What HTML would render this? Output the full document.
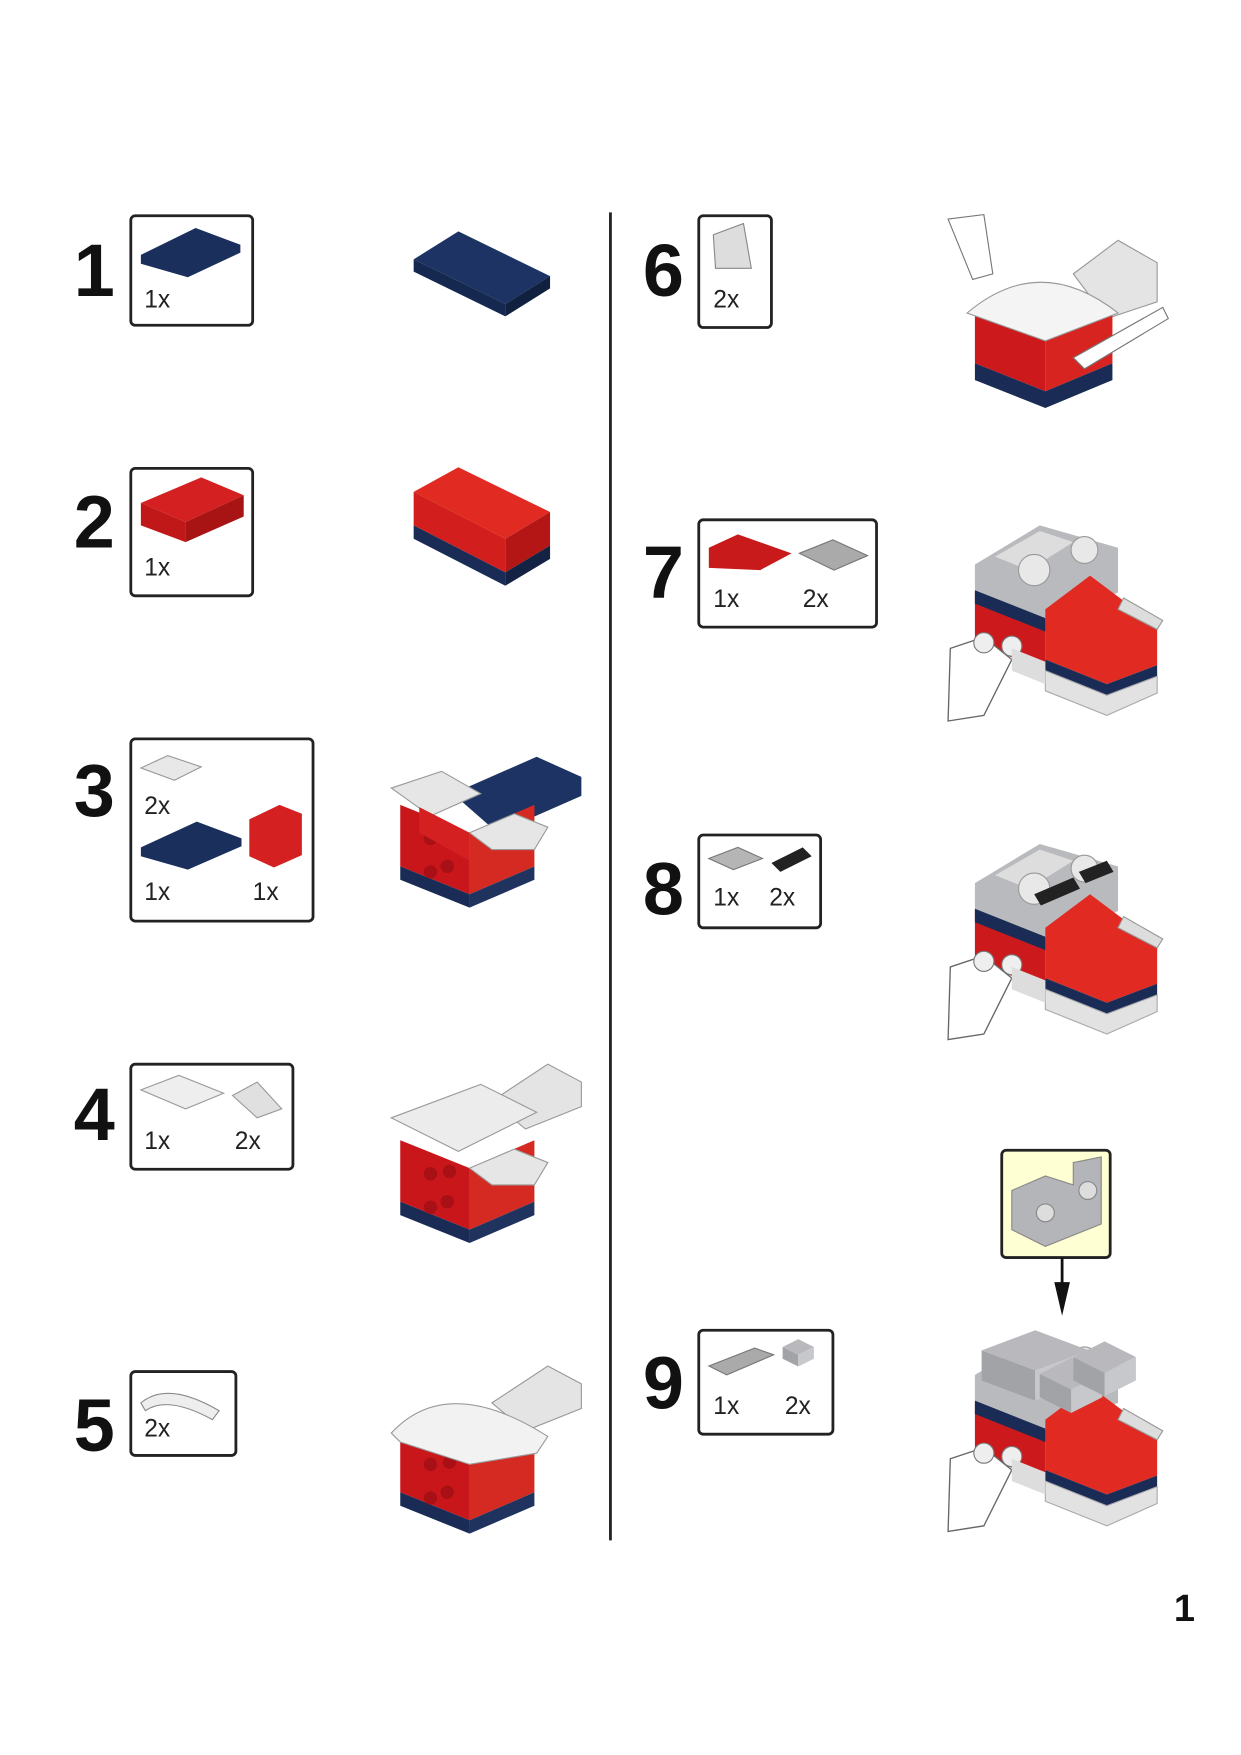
<!DOCTYPE html>
<html><head><meta charset="utf-8"><style>
html,body{margin:0;padding:0;background:#fff;}
svg{display:block;}
.n{font-family:"Liberation Sans",sans-serif;font-weight:bold;font-size:66px;fill:#111;}
.q{font-family:"Liberation Sans",sans-serif;font-size:22px;fill:#222;}
.bx{fill:#fff;stroke:#222;stroke-width:2.5;}
</style></head><body>
<svg width="1241" height="1755" viewBox="0 0 1110 1570" preserveAspectRatio="none" xmlns="http://www.w3.org/2000/svg">
<defs>
 <g id="body">
  <!-- red body with blue base -->
  <polygon points="358,720 420,745 420,800 358,775" fill="#c8161a"/>
  <polygon points="420,745 478,720 478,775 420,800" fill="#d42a22"/>
  <polygon points="358,775 420,800 420,812 358,787" fill="#1a2c55"/>
  <polygon points="420,800 478,775 478,787 420,812" fill="#20335f"/>
  <circle cx="385" cy="750" r="6" fill="#a81015"/><circle cx="400" cy="775" r="6" fill="#a81015"/>
  <circle cx="385" cy="780" r="6" fill="#a81015"/><circle cx="402" cy="748" r="6" fill="#a81015"/>
 </g>
 <g id="ship">
  <polygon points="872,505 930,470 1000,490 1000,530 940,555 872,530" fill="#b9babd"/>
  <polygon points="890,498 930,475 960,485 920,510" fill="#ddd"/>
  <circle cx="925" cy="510" r="14" fill="#e8e8e8" stroke="#999"/>
  <circle cx="970" cy="492" r="12" fill="#e8e8e8" stroke="#999"/>
  <polygon points="872,530 935,555 935,600 872,575" fill="#cc1a1c"/>
  <polygon points="872,528 935,553 935,565 872,540" fill="#1a2c55"/>
  <polygon points="935,545 975,515 1035,560 1035,595 990,612 935,590" fill="#e02a22"/>
  <polygon points="935,590 990,612 1035,595 1035,605 990,622 935,600" fill="#1a2c55"/>
  <polygon points="935,600 990,622 1035,605 1035,620 990,640 935,618" fill="#e2e2e2" stroke="#aaa"/>
  <polygon points="1005,535 1040,555 1035,563 1000,545" fill="#ddd" stroke="#999"/>
  <polygon points="850,580 880,570 905,590 880,640 848,645" fill="#fff" stroke="#666" stroke-width="1.2"/>
  <circle cx="880" cy="575" r="9" fill="#eee" stroke="#777"/><circle cx="905" cy="578" r="9" fill="#eee" stroke="#777"/>
  <polygon points="905,580 935,592 935,612 905,600" fill="#ddd"/>
 </g>
 <g id="brk">
  <polygon points="0,20 40,0 80,20 40,40" fill="#b9b9bd"/>
  <polygon points="0,20 40,40 40,70 0,50" fill="#a2a3a7"/>
  <polygon points="40,40 80,20 80,50 40,70" fill="#c7c8cb"/>
 </g>
</defs>

<line x1="546" y1="190" x2="546" y2="1378" stroke="#222" stroke-width="2.5"/>

<!-- Step 1 -->
<text class="n" x="66" y="265">1</text>
<rect class="bx" x="117" y="193" width="109" height="98" rx="4"/>
<polygon points="126,228 175,204 215,219 215,226 168,248 126,236" fill="#1a2f5c"/>
<text class="q" x="129" y="275">1x</text>
<polygon points="370,232 410,207 492,247 452,272" fill="#1c3363"/>
<polygon points="370,232 452,272 452,283 370,243" fill="#142850"/>
<polygon points="452,272 492,247 492,258 452,283" fill="#10203f"/>

<!-- Step 2 -->
<text class="n" x="66" y="490">2</text>
<rect class="bx" x="117" y="419" width="109" height="114" rx="4"/>
<polygon points="126,450 180,427 218,443 166,467" fill="#d42020"/>
<polygon points="126,450 166,467 166,485 126,470" fill="#c01818"/>
<polygon points="166,467 218,443 218,462 166,485" fill="#a81414"/>
<text class="q" x="129" y="515">1x</text>
<polygon points="370,440 410,418 492,458 452,482" fill="#e02a22"/>
<polygon points="370,440 452,482 452,512 370,470" fill="#d21e1c"/>
<polygon points="452,482 492,458 492,488 452,512" fill="#b41515"/>
<polygon points="370,470 452,512 452,524 370,482" fill="#1a2c55"/>
<polygon points="452,512 492,488 492,500 452,524" fill="#142244"/>

<!-- Step 3 -->
<text class="n" x="66" y="730">3</text>
<rect class="bx" x="117" y="661" width="163" height="163" rx="4"/>
<polygon points="126,687 150,676 180,686 156,698" fill="#e8e8e8" stroke="#999"/>
<text class="q" x="129" y="728">2x</text>
<polygon points="126,758 176,735 216,750 216,757 168,778 126,766" fill="#1a2f5c"/>
<polygon points="223,733 250,720 270,728 270,765 245,776 223,766" fill="#d42020"/>
<text class="q" x="129" y="805">1x</text><text class="q" x="226" y="805">1x</text>
<polygon points="405,710 480,677 520,695 520,712 445,745" fill="#1c3363"/>
<polygon points="350,705 395,690 430,710 385,730" fill="#e6e6e6" stroke="#999"/>
<use href="#body"/>
<polygon points="420,745 460,728 490,740 478,760 440,760" fill="#e6e6e6" stroke="#999"/>
<polygon points="375,722 420,745 420,770 375,745" fill="#d42020"/>

<!-- Step 4 -->
<text class="n" x="66" y="1020">4</text>
<rect class="bx" x="117" y="952" width="145" height="94" rx="4"/>
<polygon points="126,975 160,962 200,978 166,992" fill="#eee" stroke="#999"/>
<polygon points="208,980 230,968 252,992 230,1000" fill="#e0e0e0" stroke="#999"/>
<text class="q" x="129" y="1028">1x</text><text class="q" x="210" y="1028">2x</text>
<polygon points="440,985 490,952 520,968 520,990 470,1010" fill="#e4e4e4" stroke="#999"/>
<g transform="translate(0,300)"><use href="#body"/></g>
<polygon points="350,1000 430,970 480,995 410,1030" fill="#ececec" stroke="#999"/>
<polygon points="420,1045 460,1028 490,1040 478,1060 440,1060" fill="#e6e6e6" stroke="#999"/>

<!-- Step 5 -->
<text class="n" x="66" y="1298">5</text>
<rect class="bx" x="117" y="1227" width="94" height="75" rx="4"/>
<path d="M126,1255 Q150,1235 196,1262 L190,1270 Q150,1248 130,1262Z" fill="#eee" stroke="#888"/>
<text class="q" x="129" y="1285">2x</text>
<polygon points="440,1255 490,1222 520,1238 520,1260 470,1280" fill="#e4e4e4" stroke="#999"/>
<g transform="translate(0,560)"><use href="#body"/></g>
<path d="M350,1282 Q400,1228 490,1285 L480,1300 L420,1310 L358,1290Z" fill="#f2f2f2" stroke="#999"/>

<!-- Step 6 -->
<text class="n" x="575" y="265">6</text>
<rect class="bx" x="625" y="193" width="65" height="100" rx="4"/>
<polygon points="638,210 665,200 672,240 640,240" fill="#ddd" stroke="#888"/>
<text class="q" x="638" y="275">2x</text>
<polygon points="960,245 1000,215 1035,235 1035,270 990,285" fill="#e4e4e4" stroke="#999"/>
<polygon points="872,280 935,305 935,350 872,325" fill="#cc1a1c"/>
<polygon points="935,305 995,280 995,325 935,350" fill="#d82420"/>
<polygon points="872,325 935,350 995,325 995,340 935,365 872,340" fill="#1a2c55"/>
<path d="M865,280 Q930,225 1000,280 L935,305Z" fill="#f4f4f4" stroke="#999"/>
<polygon points="848,196 880,192 888,245 870,250" fill="#fff" stroke="#777"/>
<polygon points="960,320 1040,275 1045,285 970,330" fill="#fff" stroke="#777"/>

<!-- Step 7 -->
<text class="n" x="575" y="535">7</text>
<rect class="bx" x="625" y="465" width="159" height="96" rx="4"/>
<polygon points="634,490 660,478 708,495 680,510 634,508" fill="#c81a1a"/>
<polygon points="715,495 745,483 776,497 746,510" fill="#aaa" stroke="#777"/>
<text class="q" x="638" y="543">1x</text><text class="q" x="718" y="543">2x</text>
<use href="#ship"/>

<!-- Step 8 -->
<text class="n" x="575" y="818">8</text>
<rect class="bx" x="625" y="747" width="109" height="83" rx="4"/>
<polygon points="634,768 660,758 682,768 656,778" fill="#b5b5b5" stroke="#777"/>
<polygon points="690,772 718,758 726,766 698,780" fill="#222"/>
<text class="q" x="638" y="810">1x</text><text class="q" x="688" y="810">2x</text>
<g transform="translate(0,285)"><use href="#ship"/></g>
<polygon points="925,800 960,785 966,795 931,810" fill="#222"/>
<polygon points="965,780 990,770 996,780 971,790" fill="#222"/>

<!-- Step 9 -->
<text class="n" x="575" y="1260">9</text>
<rect class="bx" x="625" y="1190" width="120" height="93" rx="4"/>
<polygon points="634,1222 675,1206 692,1212 650,1230" fill="#aaa" stroke="#777"/>
<g transform="translate(700,1198) scale(0.35)"><use href="#brk"/></g>
<text class="q" x="638" y="1265">1x</text><text class="q" x="702" y="1265">2x</text>
<g transform="translate(0,725)"><use href="#ship"/></g>
<g transform="translate(878,1190) scale(1.2,0.9)"><use href="#brk"/></g>
<g transform="translate(930,1215) scale(0.7)"><use href="#brk"/></g>
<g transform="translate(960,1200) scale(0.7)"><use href="#brk"/></g>

<!-- callout -->
<rect x="896" y="1029" width="97" height="96" rx="4" fill="#ffffd4" stroke="#222" stroke-width="2.5"/>
<polygon points="905,1065 935,1052 960,1060 960,1040 985,1035 985,1095 935,1115 905,1100" fill="#b4b5b8" stroke="#888"/>
<circle cx="935" cy="1085" r="8" fill="#ddd" stroke="#888"/><circle cx="973" cy="1065" r="8" fill="#ddd" stroke="#888"/>
<line x1="950" y1="1125" x2="950" y2="1150" stroke="#111" stroke-width="2.5"/>
<polygon points="943,1147 957,1147 950,1177" fill="#111"/>

<text x="1050" y="1450" font-family="Liberation Sans,sans-serif" font-weight="bold" font-size="34" fill="#111">1</text>
</svg>
</body></html>
